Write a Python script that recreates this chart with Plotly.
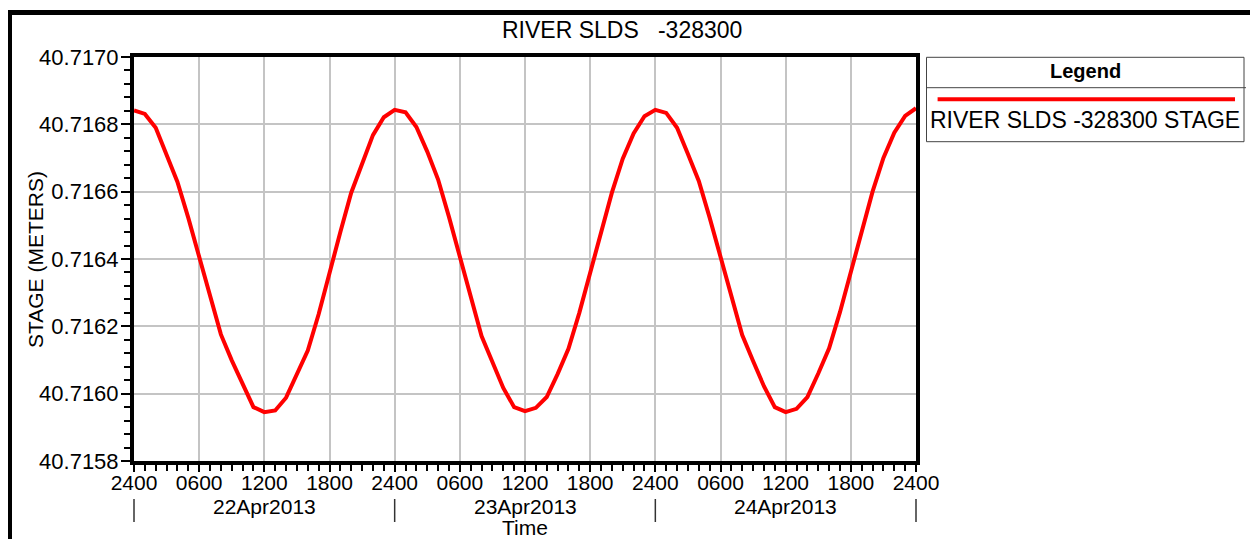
import plotly.graph_objects as go
import pandas as pd

# ---- data ----
start_time = "2013-04-22 00:00"
day1_stage = [40.716841, 40.716831, 40.716790, 40.716709, 40.716629, 40.716522,
              40.716405, 40.716291, 40.716176, 40.716099, 40.716027, 40.715960,
              40.715945, 40.715950, 40.715988, 40.716058, 40.716128, 40.716236,
              40.716362, 40.716480, 40.716597, 40.716685, 40.716768, 40.716821]
day2_stage = [40.716843, 40.716836, 40.716792, 40.716719, 40.716636, 40.716525,
              40.716405, 40.716284, 40.716171, 40.716094, 40.716017, 40.715960,
              40.715948, 40.715958, 40.715990, 40.716058, 40.716133, 40.716240,
              40.716362, 40.716484, 40.716597, 40.716698, 40.716773, 40.716824]
day3_stage = [40.716843, 40.716834, 40.716790, 40.716712, 40.716632, 40.716523,
              40.716405, 40.716288, 40.716174, 40.716097, 40.716022, 40.715960,
              40.715945, 40.715955, 40.715990, 40.716060, 40.716135, 40.716242,
              40.716365, 40.716485, 40.716600, 40.716700, 40.716775, 40.716825,
              40.716848]
stage = day1_stage + day2_stage + day3_stage
times = pd.date_range(start_time, periods=len(stage), freq="h")

x_tick_text = ["2400", "0600", "1200", "1800"] * 3 + ["2400"]
x_tick_vals = pd.date_range(start_time, periods=len(x_tick_text), freq="6h")
day_labels = ["22Apr2013", "23Apr2013", "24Apr2013"]
day_centers = pd.date_range("2013-04-22 12:00", periods=3, freq="D")
y_tick_vals = [40.7158, 40.7160, 40.7162, 40.7164, 40.7166, 40.7168, 40.7170]
y_tick_text = ["40.7158", "40.7160", "0.7162", "0.7164", "0.7166", "40.7168", "40.7170"]

title_text = "RIVER SLDS\u00a0\u00a0\u00a0-328300"
series_name = "RIVER SLDS -328300 STAGE"

FONT = "Liberation Sans, Arial, sans-serif"
OFF = 8  # page margin of the html body
W, H = 1258 - OFF, 539 - OFF
L, T = 134 - OFF, 57 - OFF
PW, PH = 782, 404
R, B = W - L - PW, H - T - PH


def px(xp):
    """page x pixel -> paper coordinate"""
    return (xp - OFF - L) / PW


def py(yp):
    """page y pixel -> paper coordinate"""
    return (T + PH - (yp - OFF)) / PH


fig = go.Figure()
fig.add_trace(go.Scatter(x=times, y=stage, mode="lines", name=series_name,
                         line=dict(color="#ff0000", width=4), showlegend=False))

axis_common = dict(showline=True, linecolor="black", linewidth=4, mirror=True,
                   ticks="outside", tickcolor="black", tickwidth=1.5,
                   showgrid=True, gridcolor="#c4c4c4", gridwidth=2, zeroline=False)

fig.update_xaxes(type="date", range=[times[0], times[-1]], tickmode="array",
                 tickvals=x_tick_vals, ticktext=x_tick_text, ticklen=7,
                 ticklabelstandoff=-7, tickfont=dict(family=FONT, size=21, color="black"),
                 minor=dict(dtick=3600000, tick0=start_time, ticklen=6, tickcolor="black",
                            tickwidth=1.5, ticks="outside", showgrid=False),
                 **axis_common)
fig.update_yaxes(range=[40.7158, 40.7170], tickmode="array", tickvals=y_tick_vals,
                 ticktext=y_tick_text, ticklen=9, ticklabelstandoff=-2,
                 tickfont=dict(family=FONT, size=22, color="black"),
                 minor=dict(dtick=0.00004, tick0=40.7158, ticklen=6, tickcolor="black",
                            tickwidth=1.5, ticks="outside", showgrid=False),
                 **axis_common)

annotations = [
    dict(text=title_text, x=px(622), y=py(30), xref="paper", yref="paper",
         showarrow=False, font=dict(family=FONT, size=23, color="black"),
         xanchor="center", yanchor="middle"),
    dict(text="STAGE (METERS)", x=px(35), y=0.5, xref="paper", yref="paper",
         showarrow=False, textangle=-90, font=dict(family=FONT, size=21, color="black"),
         xanchor="center", yanchor="middle"),
    dict(text="Time", x=0.5, y=py(527), xref="paper", yref="paper",
         showarrow=False, font=dict(family=FONT, size=21, color="black"),
         xanchor="center", yanchor="middle"),
    dict(text="<b>Legend</b>", x=px(1085), y=py(71), xref="paper", yref="paper",
         showarrow=False, font=dict(family=FONT, size=20, color="black"),
         xanchor="center", yanchor="middle"),
    dict(text=series_name, x=px(1085), y=py(120), xref="paper", yref="paper",
         showarrow=False, font=dict(family=FONT, size=23, color="black"),
         xanchor="center", yanchor="middle"),
]
for lab, c in zip(day_labels, day_centers):
    annotations.append(dict(text=lab, x=c, y=py(506), xref="x", yref="paper",
                            showarrow=False, font=dict(family=FONT, size=21, color="black"),
                            xanchor="center", yanchor="middle"))

shapes = [
    # outer frame
    dict(type="line", xref="paper", yref="paper", x0=px(9.5), x1=px(9.5), y0=py(10), y1=py(600),
         line=dict(color="black", width=5)),
    dict(type="line", xref="paper", yref="paper", x0=px(7), x1=px(1256), y0=py(12.5), y1=py(12.5),
         line=dict(color="black", width=5)),
    dict(type="line", xref="paper", yref="paper", x0=px(1254.5), x1=px(1254.5), y0=py(10), y1=py(600),
         line=dict(color="black", width=3)),
    # legend box
    dict(type="rect", xref="paper", yref="paper", x0=px(926.5), x1=px(1244), y0=py(141.7), y1=py(57.3),
         line=dict(color="#444444", width=1)),
    dict(type="line", xref="paper", yref="paper", x0=px(926.5), x1=px(1246), y0=py(87.7), y1=py(87.7),
         line=dict(color="#444444", width=1)),
    dict(type="line", xref="paper", yref="paper", x0=px(937.6), x1=px(1235), y0=py(99.3), y1=py(99.3),
         line=dict(color="#ff0000", width=4)),
]
# day separators under the axis
for i in range(4):
    shapes.append(dict(type="line", xref="paper", yref="paper", x0=i / 3, x1=i / 3,
                       y0=py(499), y1=py(522), line=dict(color="#333333", width=1.5)))

fig.update_layout(width=W, height=H, margin=dict(l=L, r=R, t=T, b=B),
                  plot_bgcolor="white", paper_bgcolor="white",
                  annotations=annotations, shapes=shapes, showlegend=False)

fig.write_html("out.html")
